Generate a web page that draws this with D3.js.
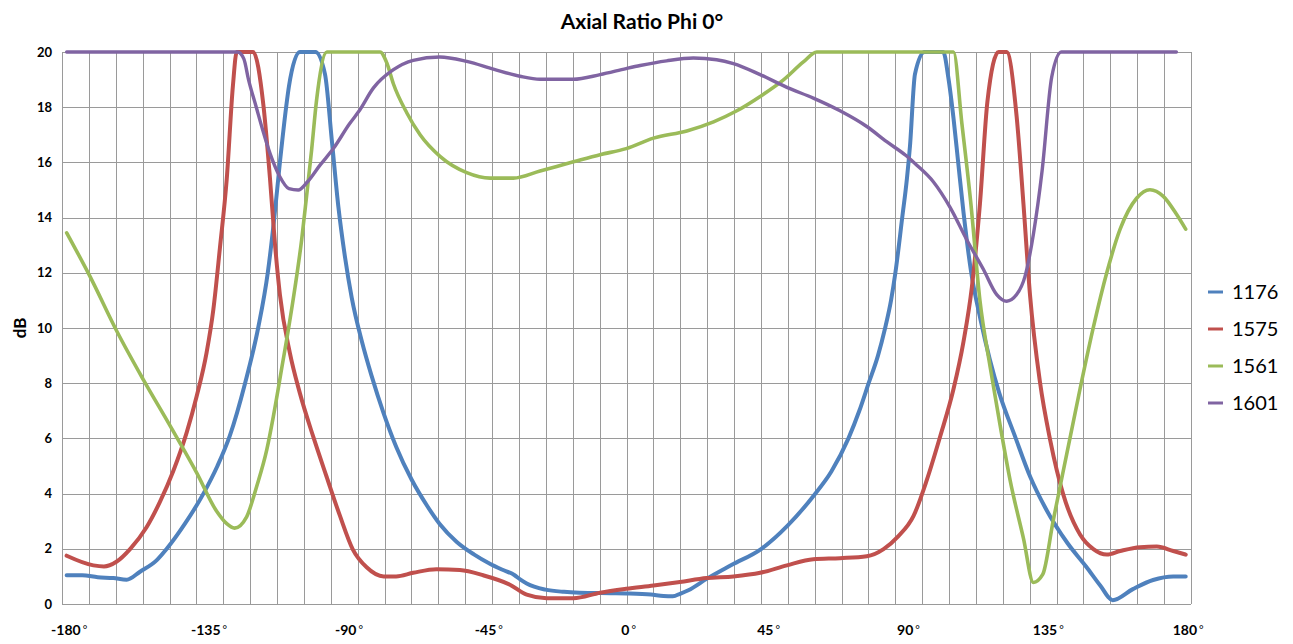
<!DOCTYPE html>
<html>
<head>
<meta charset="utf-8">
<script src="https://cdn.jsdelivr.net/npm/d3@7"></script>
<style>
    body { margin: 0; background: #fff; }
    svg { display: block; font-family: Lato, "Open Sans", sans-serif; }
</style>
</head>
<body>
<div id="chart"></div>
<script>
// Phi angle (deg) and axial ratio (dB), one pair of arrays per frequency
const angles1176 = [-180, -175, -170, -165, -160.7, -156.4, -151, -147.8, -142, -136, -131.5, -127.5, -122.6, -118.4, -115.3, -113.2, -111.4, -109.4, -108.5, -105, -100, -96.9, -94.7, -92.6, -90.5, -88.3, -85, -82, -78, -74, -69, -64, -60, -54.5, -49, -44, -40, -36, -34, -32, -26, -20, -15, -5, 0, 8, 12, 15, 17.5, 20, 26, 34, 43.5, 52, 60.5, 66, 71.5, 75, 78, 81, 83.3, 85.2, 86.6, 88.8, 90.3, 91.3, 92.9, 96, 102, 103.6, 105.3, 106.8, 108.5, 111, 114, 117, 120, 125, 130, 135, 142, 148, 152.5, 156.5, 163, 169.5, 176, 180];
const values1176 = [1.04, 1.04, 0.97, 0.94, 0.88, 1.17, 1.59, 2.0, 2.9, 4.0, 5.0, 6.1, 8.0, 10.0, 12.0, 14.0, 16.0, 18.0, 18.75, 20, 20, 19.2, 16.8, 14.4, 12.6, 11.1, 9.5, 8.3, 6.9, 5.7, 4.5, 3.55, 2.9, 2.25, 1.8, 1.47, 1.25, 1.05, 0.88, 0.74, 0.52, 0.44, 0.41, 0.39, 0.38, 0.34, 0.29, 0.28, 0.38, 0.5, 0.92, 1.42, 2.0, 2.85, 3.95, 4.8, 6.0, 7.0, 8.0, 9.0, 10.0, 11.0, 12.0, 14.0, 15.4, 16.6, 19.2, 20, 20, 19.1, 17.6, 16.0, 14.2, 12.0, 10.3, 8.85, 7.65, 6.1, 4.6, 3.45, 2.2, 1.35, 0.67, 0.14, 0.54, 0.87, 1.0, 1.0];

const angles1575 = [-180, -171.4, -168, -164, -159.6, -154.3, -150, -145.7, -141.4, -138.2, -135, -132.8, -130.7, -128.5, -126.5, -125.3, -120, -116.7, -114.6, -113, -111.4, -108.2, -105, -100.7, -96.4, -92.1, -88, -83.5, -78, -74, -68.5, -61, -53.5, -46, -37.4, -32, -25.6, -17, -8.4, 0, 8.8, 17.3, 25.9, 34.5, 43.1, 51.7, 60.2, 68.8, 77.4, 82.8, 87.5, 92.4, 96.7, 101, 105.3, 108.5, 111.2, 113.8, 116.2, 119.8, 122.4, 125.6, 127.8, 129.9, 133.1, 136.4, 140.6, 146, 150.3, 154.6, 158.9, 165.3, 170.7, 176, 180];
const values1575 = [1.75, 1.40, 1.36, 1.53, 1.99, 2.78, 3.70, 4.82, 6.21, 7.52, 9.1, 10.68, 12.9, 15.4, 18.8, 20, 20, 18.06, 15.43, 13.06, 11.21, 9.1, 7.65, 6.07, 4.62, 3.2, 1.99, 1.33, 1.0, 1.0, 1.13, 1.26, 1.23, 1.04, 0.7, 0.34, 0.21, 0.21, 0.41, 0.55, 0.67, 0.8, 0.94, 1.0, 1.13, 1.4, 1.62, 1.66, 1.73, 1.99, 2.45, 3.18, 4.49, 6.07, 7.79, 9.5, 11.48, 14.5, 18.2, 20, 20, 17.67, 14.5, 11.21, 8.05, 5.94, 3.97, 2.52, 1.99, 1.79, 1.92, 2.06, 2.08, 1.92, 1.79];

const angles1561 = [-180, -172.5, -163.9, -155.3, -146.8, -138.2, -131.8, -128.5, -126, -122.1, -118.9, -115.6, -113.5, -110.5, -108.7, -106.5, -104.4, -102.8, -101.2, -99.6, -96.3, -79.2, -77, -74.9, -70.6, -66.3, -59.9, -51.3, -43.8, -36.3, -27.7, -17, -8.4, 0, 8.8, 19.5, 28.1, 35.6, 43.1, 50.6, 57, 61.3, 105.3, 108, 110.8, 113.8, 117.1, 120.3, 123.5, 127.8, 131, 134, 137.4, 141.7, 146, 150.3, 154.6, 158.9, 164.2, 168.5, 172.8, 177.1, 180];
const values1561 = [13.45, 11.87, 9.89, 8.12, 6.47, 4.76, 3.37, 2.91, 2.75, 3.16, 4.25, 5.6, 6.8, 8.75, 9.93, 11.5, 13.2, 14.8, 16.45, 18.26, 20, 20, 19.6, 18.85, 17.8, 17.0, 16.22, 15.63, 15.43, 15.43, 15.69, 16.02, 16.28, 16.5, 16.88, 17.14, 17.47, 17.87, 18.39, 18.99, 19.64, 20, 20, 17.4, 14.6, 11.0, 8.58, 6.47, 4.49, 2.38, 0.78, 1.07, 3.04, 5.42, 7.79, 10.03, 12.0, 13.58, 14.7, 15.01, 14.77, 14.11, 13.58];

const angles1601 = [-180, -125, -123, -121.5, -119, -117, -114.5, -111.5, -108.5, -105.5, -102.5, -98.5, -94.2, -89, -86, -81.3, -75, -68.5, -60, -51.3, -42.7, -34.2, -27.7, -17, -8.4, 0, 4.5, 13, 21.6, 29.1, 34.5, 43.1, 51.7, 60.2, 68.8, 77.4, 83.8, 90, 93.5, 98.8, 104.2, 109.6, 114.9, 119.2, 122.4, 125.6, 128.3, 131, 133.8, 136.9, 140, 177];
const values1601 = [20, 20, 19.75, 19.0, 18.0, 17.2, 16.3, 15.5, 15.05, 15.0, 15.3, 15.9, 16.5, 17.4, 17.85, 18.7, 19.35, 19.7, 19.82, 19.66, 19.38, 19.12, 19.01, 19.01, 19.18, 19.4, 19.51, 19.68, 19.78, 19.72, 19.58, 19.18, 18.72, 18.33, 17.87, 17.3, 16.75, 16.25, 15.9, 15.3, 14.37, 13.19, 12.13, 11.21, 10.97, 11.21, 11.87, 13.4, 15.7, 19.1, 20, 20];

const seriesNames = ["1176", "1575", "1561", "1601"];
const xTickValues = [-180, -135, -90, -45, 0, 45, 90, 135, 180];
const yTickValues = [0, 2, 4, 6, 8, 10, 12, 14, 16, 18, 20];

const seriesData = [
    { name: seriesNames[0], angles: angles1176, values: values1176 },
    { name: seriesNames[1], angles: angles1575, values: values1575 },
    { name: seriesNames[2], angles: angles1561, values: values1561 },
    { name: seriesNames[3], angles: angles1601, values: values1601 },
];

const colors = ["#4F81BD", "#C0504D", "#9BBB59", "#8064A2"];
const strokeWidths = [4, 4, 3.6, 3.4];

let margin = { top: 52, right: 102, bottom: 40, left: 62 };
let width = 1293 - margin.left - margin.right,
    height = 644 - margin.top - margin.bottom;

const svg = d3
    .select("#chart")
    .append("svg")
    .attr("width", 1293)
    .attr("height", 644);

const g = svg.append("g").attr("transform", "translate(" + margin.left + "," + margin.top + ")");

// Excel category axis leaves a little room past +-180
const xDomain = [-181.5, 181.7];
let x = d3.scaleLinear().domain(xDomain).range([0, width]);
let y = d3.scaleLinear().domain([0, 20]).range([height, 0]);

// Grid: 42 vertical cells, horizontal line every 2 dB
const gridCount = 42;
const vGrid = d3.range(gridCount + 1).map((i) => xDomain[0] + (i * (xDomain[1] - xDomain[0])) / gridCount);

g.selectAll(".vgrid")
    .data(vGrid)
    .enter()
    .append("line")
    .attr("class", "vgrid")
    .attr("x1", (d) => Math.round(x(d)) + 0.5)
    .attr("x2", (d) => Math.round(x(d)) + 0.5)
    .attr("y1", 0)
    .attr("y2", height)
    .attr("stroke", "#9a9a9a")
    .attr("stroke-width", 1);

g.selectAll(".hgrid")
    .data(yTickValues)
    .enter()
    .append("line")
    .attr("class", "hgrid")
    .attr("x1", 0)
    .attr("x2", width)
    .attr("y1", (d) => Math.round(y(d)) + 0.5)
    .attr("y2", (d) => Math.round(y(d)) + 0.5)
    .attr("stroke", "#9a9a9a")
    .attr("stroke-width", 1);

// Y axis labels
const yAxis = g.append("g").call(d3.axisLeft(y).tickValues(yTickValues).tickSize(0).tickPadding(10));
yAxis.select(".domain").remove();
yAxis.selectAll("text")
    .attr("font-family", "Lato, sans-serif")
    .attr("font-size", 13)
    .attr("font-weight", "bold")
    .attr("fill", "#000");

// X axis labels with degree sign
const xAxis = g
    .append("g")
    .attr("transform", "translate(0," + height + ")")
    .call(d3.axisBottom(x).tickValues(xTickValues).tickSize(0).tickPadding(21).tickFormat(""));
xAxis.select(".domain").remove();
xAxis.selectAll(".tick text").each(function (d) {
    const t = d3.select(this)
        .attr("font-family", "Lato, sans-serif")
        .attr("font-size", 14)
        .attr("font-weight", "bold")
        .attr("fill", "#000")
        .attr("dx", 2);
    t.append("tspan").text(d);
    t.append("tspan").attr("dx", 2).attr("dy", -1).attr("font-size", 11).attr("font-weight", "normal").text("°");
});

// Lines
const line = d3
    .line()
    .x((d) => x(d[0]))
    .y((d) => y(d[1]))
    .curve(d3.curveMonotoneX);

g.selectAll(".series")
    .data(seriesData)
    .enter()
    .append("path")
    .attr("class", "series")
    .attr("d", (s) => line(s.angles.map((a, i) => [a, s.values[i]])))
    .attr("fill", "none")
    .attr("stroke", (s, i) => colors[i])
    .attr("stroke-width", (s, i) => strokeWidths[i])
    .attr("stroke-linejoin", "round")
    .attr("stroke-linecap", "round");

// Title and axis name
svg.append("text")
    .attr("x", 642)
    .attr("y", 29)
    .attr("text-anchor", "middle")
    .attr("font-size", 21)
    .attr("font-weight", "bold")
    .text("Axial Ratio Phi 0°");

svg.append("text")
    .attr("transform", "translate(26," + (margin.top + height / 2) + ") rotate(-90)")
    .attr("text-anchor", "middle")
    .attr("font-size", 17)
    .attr("font-weight", "bold")
    .text("dB");

// Legend
const legend = svg
    .append("g")
    .selectAll(".legend")
    .data(seriesData)
    .enter()
    .append("g")
    .attr("class", "legend")
    .attr("transform", (d, i) => "translate(1208," + (292 + i * 37) + ")");

legend.append("line")
    .attr("x1", 0)
    .attr("x2", 15)
    .attr("y1", 0)
    .attr("y2", 0)
    .attr("stroke", (d, i) => colors[i])
    .attr("stroke-width", 3);

legend.append("text")
    .attr("x", 24)
    .attr("y", 0)
    .attr("dy", "0.36em")
    .attr("font-size", 20)
    .text((d) => d.name);
</script>
</body>
</html>
